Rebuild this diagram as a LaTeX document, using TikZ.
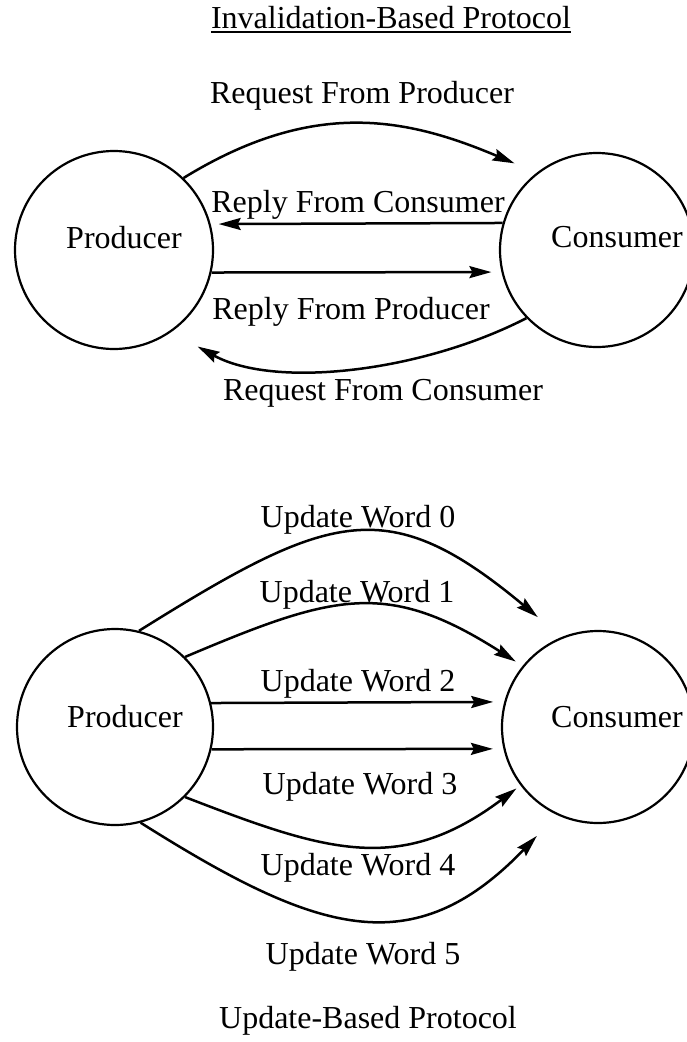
\documentclass[tikz,border=0pt]{standalone}
\usepackage{fontspec}
\setmainfont{Liberation Serif}
\usetikzlibrary{arrows.meta,calc}

\begin{document}
\begin{tikzpicture}[x=1pt,y=-1pt,
  party/.style={circle,draw,line width=2.2pt,inner sep=0pt},
  lbl/.style={inner sep=0pt,anchor=base,font=\fontsize{32}{38}\selectfont},
  msg/.style={line width=2.5pt,-{Stealth[length=22pt,width=12pt,inset=3pt]}}]

\useasboundingbox (0,0) rectangle (687,1042);
\fill[white] (0,0) rectangle (687,1042);

% ---------- invalidation-based protocol ----------
\node[lbl] (title) at (391,28) {Invalidation-Based Protocol};
\draw[line width=1.6pt] ($(title.base west)+(0,4)$) -- ($(title.base east)+(0,4)$);

\node[party,minimum size=198pt] (p1) at (114,250) {};
\node[party,minimum size=194pt] (c1) at (597,250) {};
\node[lbl] (p1t) at (124,248) {Producer};
\node[lbl] (c1t) at (617,247) {Consumer};

\node[lbl] (reqp) at (362,103) {Request From Producer};
\node[lbl] (repc) at (358,212) {Reply From Consumer};
\node[lbl] (repp) at (351,319) {Reply From Producer};
\node[lbl] (reqc) at (383,400) {Request From Consumer};

\draw[msg,shorten >=24pt] (p1.46) .. controls +(130,-80) and +(-130,-55) .. (c1.128);
\draw[msg,shorten >=8pt] (c1.164.4) -- (p1.15.2);
\draw[msg,shorten >=10pt] (p1.-13.4) -- (c1.193.7);
\draw[msg,shorten >=30pt] (c1.224) .. controls +(-105,54) and +(103,57) .. (p1.-55.7);

% ---------- update-based protocol ----------
\node[party,minimum size=196pt] (p2) at (115,727) {};
\node[party,minimum size=192pt] (c2) at (598,727) {};
\node[lbl] (p2t) at (125,727) {Producer};
\node[lbl] (c2t) at (617,727) {Consumer};

\node[lbl] (w0) at (358,527) {Update Word 0};
\node[lbl] (w1) at (357,602) {Update Word 1};
\node[lbl] (w2) at (358,691) {Update Word 2};
\node[lbl] (w3) at (360,794) {Update Word 3};
\node[lbl] (w4) at (358,875) {Update Word 4};
\node[lbl] (w5) at (363,964) {Update Word 5};
\node[lbl] (utitle) at (368,1028) {Update-Based Protocol};

\draw[msg,shorten >=31pt] (p2.76) .. controls +(192,-120) and +(-174,-145) .. (c2.112);
\draw[msg,shorten >=8pt] (p2.45) .. controls +(149,-63) and +(-136,-87) .. (c2.141.3);
\draw[msg,shorten >=11pt] (p2.14.5) -- (c2.165.2);
\draw[msg,shorten >=10.5pt] (p2.-13) -- (c2.193.25);
\draw[msg,shorten >=5pt] (p2.-45) .. controls +(140,54) and +(-121,91) .. (c2.217);
\draw[msg,shorten >=29pt] (p2.-75) .. controls +(176,111) and +(-144,150) .. (c2.245.9);

\end{tikzpicture}
\end{document}
